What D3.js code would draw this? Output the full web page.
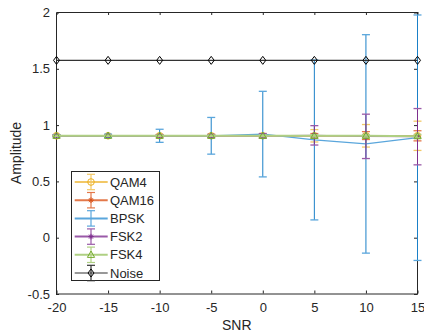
<!DOCTYPE html>
<html>
<head>
<meta charset="utf-8">
<script src="https://cdn.jsdelivr.net/npm/d3@7"></script>
<style>
  body { margin: 0; background: #fff; }
  svg text { font-family: "Liberation Sans", Arial, sans-serif; fill: #262626; }
</style>
</head>
<body>
<svg width="424" height="336"></svg>
<script>
// ---- data ----
var snr = [-20, -15, -10, -5, 0, 5, 10, 15];

var qam4Mean  = [0.905, 0.905, 0.905, 0.905, 0.905, 0.905, 0.905, 0.905];
var qam4Err   = [0.01, 0.01, 0.012, 0.015, 0.02, 0.055, 0.1, 0.13];
var qam16Mean = [0.905, 0.905, 0.905, 0.905, 0.905, 0.905, 0.907, 0.905];
var qam16Err  = [0.005, 0.005, 0.006, 0.008, 0.01, 0.02, 0.035, 0.045];
var bpskMean  = [0.905, 0.905, 0.905, 0.905, 0.92, 0.868, 0.833, 0.888];
var bpskErr   = [0.01, 0.015, 0.058, 0.163, 0.38, 0.71, 0.97, 1.09];
var fsk2Mean  = [0.905, 0.905, 0.905, 0.905, 0.905, 0.909, 0.9, 0.897];
var fsk2Err   = [0.005, 0.005, 0.008, 0.012, 0.02, 0.086, 0.197, 0.25];
var fsk4Mean  = [0.905, 0.905, 0.905, 0.905, 0.905, 0.905, 0.905, 0.902];
var fsk4Err   = [0.005, 0.005, 0.005, 0.006, 0.008, 0.01, 0.012, 0.015];
var noiseMean = [1.575, 1.575, 1.575, 1.575, 1.575, 1.575, 1.575, 1.575];
var noiseErr  = [0, 0, 0, 0, 0, 0, 0, 0];

var seriesNames = ["QAM4", "QAM16", "BPSK", "FSK2", "FSK4", "Noise"];
var xTicks = [-20, -15, -10, -5, 0, 5, 10, 15];
var yTicks = [-0.5, 0, 0.5, 1, 1.5, 2];

var series = [
  {name: "QAM4",  mean: qam4Mean,  err: qam4Err,  color: "#EDB120", line: "#f2c866", marker: "circle"},
  {name: "QAM16", mean: qam16Mean, err: qam16Err, color: "#D95319", line: "#e3784a", marker: "star"},
  {name: "BPSK",  mean: bpskMean,  err: bpskErr,  color: "#1a80c8", line: "#5aa6dc", marker: "none"},
  {name: "FSK2",  mean: fsk2Mean,  err: fsk2Err,  color: "#7E2F8E", line: "#9a5aa8", marker: "star"},
  {name: "FSK4",  mean: fsk4Mean,  err: fsk4Err,  color: "#77AC30", line: "#afd083", marker: "triangle"},
  {name: "Noise", mean: noiseMean, err: noiseErr, color: "#000000", line: "#333333", marker: "diamond"}
];

var svg = d3.select("svg");

var x = d3.scaleLinear().domain([-20, 15]).range([56.5, 417.5]);
var y = d3.scaleLinear().domain([-0.5, 2]).range([294, 12.5]);

var axisColor = "#262626";

// ---- axes (box with inward ticks) ----
// d3 shifts axis paths by 0.5px itself, so groups sit half a pixel back
function styleAxis(g) {
  g.selectAll("path.domain").attr("stroke", axisColor);
  g.selectAll(".tick line").attr("stroke", axisColor);
  g.selectAll(".tick text").attr("fill", axisColor).style("font-size", "13px");
}

svg.append("g")
   .attr("transform", "translate(0,293.5)")
   .call(d3.axisBottom(x).tickValues(xTicks).tickSize(-3).tickSizeOuter(0).tickPadding(9)
           .tickFormat(function(d){ return String(d); }))
   .call(styleAxis);

svg.append("g")
   .attr("transform", "translate(0,12)")
   .call(d3.axisTop(x).tickValues(xTicks).tickSize(-3).tickSizeOuter(0).tickFormat(""))
   .call(styleAxis);

svg.append("g")
   .attr("transform", "translate(56,0)")
   .call(d3.axisLeft(y).tickValues(yTicks).tickSize(-3).tickSizeOuter(0).tickPadding(6)
           .tickFormat(function(d){ return String(d); }))
   .call(styleAxis);

svg.append("g")
   .attr("transform", "translate(417,0)")
   .call(d3.axisRight(y).tickValues(yTicks).tickSize(-3).tickSizeOuter(0).tickFormat(""))
   .call(styleAxis);

svg.selectAll("g text").attr("font-family", "Liberation Sans, Arial, sans-serif");

// ---- marker drawing ----
function drawMarker(g, type, cx, cy, color) {
  if (type == "circle") {
    g.append("circle").attr("cx", cx).attr("cy", cy).attr("r", 3.3)
     .attr("fill", "none").attr("stroke", color).attr("stroke-width", 1);
  } else if (type == "diamond") {
    g.append("path")
     .attr("d", "M" + cx + "," + (cy - 4) + "L" + (cx + 3) + "," + cy + "L" + cx + "," + (cy + 4) + "L" + (cx - 3) + "," + cy + "Z")
     .attr("fill", "none").attr("stroke", color).attr("stroke-width", 1);
  } else if (type == "triangle") {
    g.append("path")
     .attr("d", "M" + cx + "," + (cy - 3.8) + "L" + (cx + 3.6) + "," + (cy + 2.6) + "L" + (cx - 3.6) + "," + (cy + 2.6) + "Z")
     .attr("fill", "none").attr("stroke", color).attr("stroke-width", 1);
  } else if (type == "star") {
    var r = 2.8, d = "";
    [0, 45, 90, 135].forEach(function(a){
      var rad = a * Math.PI / 180;
      d += "M" + (cx - r * Math.cos(rad)) + "," + (cy - r * Math.sin(rad)) +
           "L" + (cx + r * Math.cos(rad)) + "," + (cy + r * Math.sin(rad));
    });
    g.append("path").attr("d", d).attr("stroke", color).attr("stroke-width", 1);
  }
}

// ---- plot series ----
var plot = svg.append("g").attr("id", "plot");
var line = d3.line().x(function(d){ return x(d.x); }).y(function(d){ return y(d.m); });

series.forEach(function(s) {
  var pts = snr.map(function(v, i){ return {x: v, m: s.mean[i], e: s.err[i]}; });
  var g = plot.append("g").attr("class", "series");

  // error bars
  pts.forEach(function(p) {
    if (p.e <= 0) return;
    var px = x(p.x), top = y(p.m + p.e), bot = y(p.m - p.e);
    g.append("line").attr("x1", px).attr("x2", px).attr("y1", top).attr("y2", bot)
     .attr("stroke", s.color).attr("stroke-width", 1);
    g.append("line").attr("x1", px - 4).attr("x2", px + 4).attr("y1", top).attr("y2", top)
     .attr("stroke", s.line).attr("stroke-width", 1.3);
    g.append("line").attr("x1", px - 4).attr("x2", px + 4).attr("y1", bot).attr("y2", bot)
     .attr("stroke", s.line).attr("stroke-width", 1.3);
  });

  g.append("path").datum(pts).attr("d", line)
   .attr("fill", "none").attr("stroke", s.line)
   .attr("stroke-width", s.name == "FSK4" ? 2 : 1.2);

  pts.forEach(function(p) {
    drawMarker(g, s.marker, x(p.x), y(p.m), s.color);
  });
});

// ---- legend ----
var legend = svg.append("g").attr("id", "legend");
legend.append("rect")
      .attr("x", 71).attr("y", 171.3).attr("width", 88).attr("height", 109.4)
      .attr("fill", "#fff").attr("stroke", axisColor).attr("stroke-width", 1)
      .attr("shape-rendering", "crispEdges");

series.forEach(function(s, i) {
  var cy = 182 + i * 18.2, cx = 91;
  var item = legend.append("g");
  item.append("line").attr("x1", 74.7).attr("x2", 107.7).attr("y1", cy).attr("y2", cy)
      .attr("stroke", s.line).attr("stroke-width", s.name == "Noise" ? 1.2 : 2);
  item.append("line").attr("x1", cx).attr("x2", cx).attr("y1", cy - 7.7).attr("y2", cy + 7.7)
      .attr("stroke", s.line).attr("stroke-width", 1.2);
  item.append("line").attr("x1", cx - 4).attr("x2", cx + 4).attr("y1", cy - 7.7).attr("y2", cy - 7.7)
      .attr("stroke", s.line).attr("stroke-width", 1.2);
  item.append("line").attr("x1", cx - 4).attr("x2", cx + 4).attr("y1", cy + 7.7).attr("y2", cy + 7.7)
      .attr("stroke", s.line).attr("stroke-width", 1.2);
  drawMarker(item, s.marker, cx, cy, s.color);
  item.append("text").attr("x", 110).attr("y", cy).attr("dy", "0.36em")
      .style("font-size", "13px").text(s.name);
});

// ---- axis labels ----
svg.append("text").attr("x", 236.8).attr("y", 330).attr("text-anchor", "middle")
   .style("font-size", "14px").text("SNR");
svg.append("text").attr("transform", "translate(21,153) rotate(-90)").attr("text-anchor", "middle")
   .style("font-size", "14px").text("Amplitude");
</script>
</body>
</html>
